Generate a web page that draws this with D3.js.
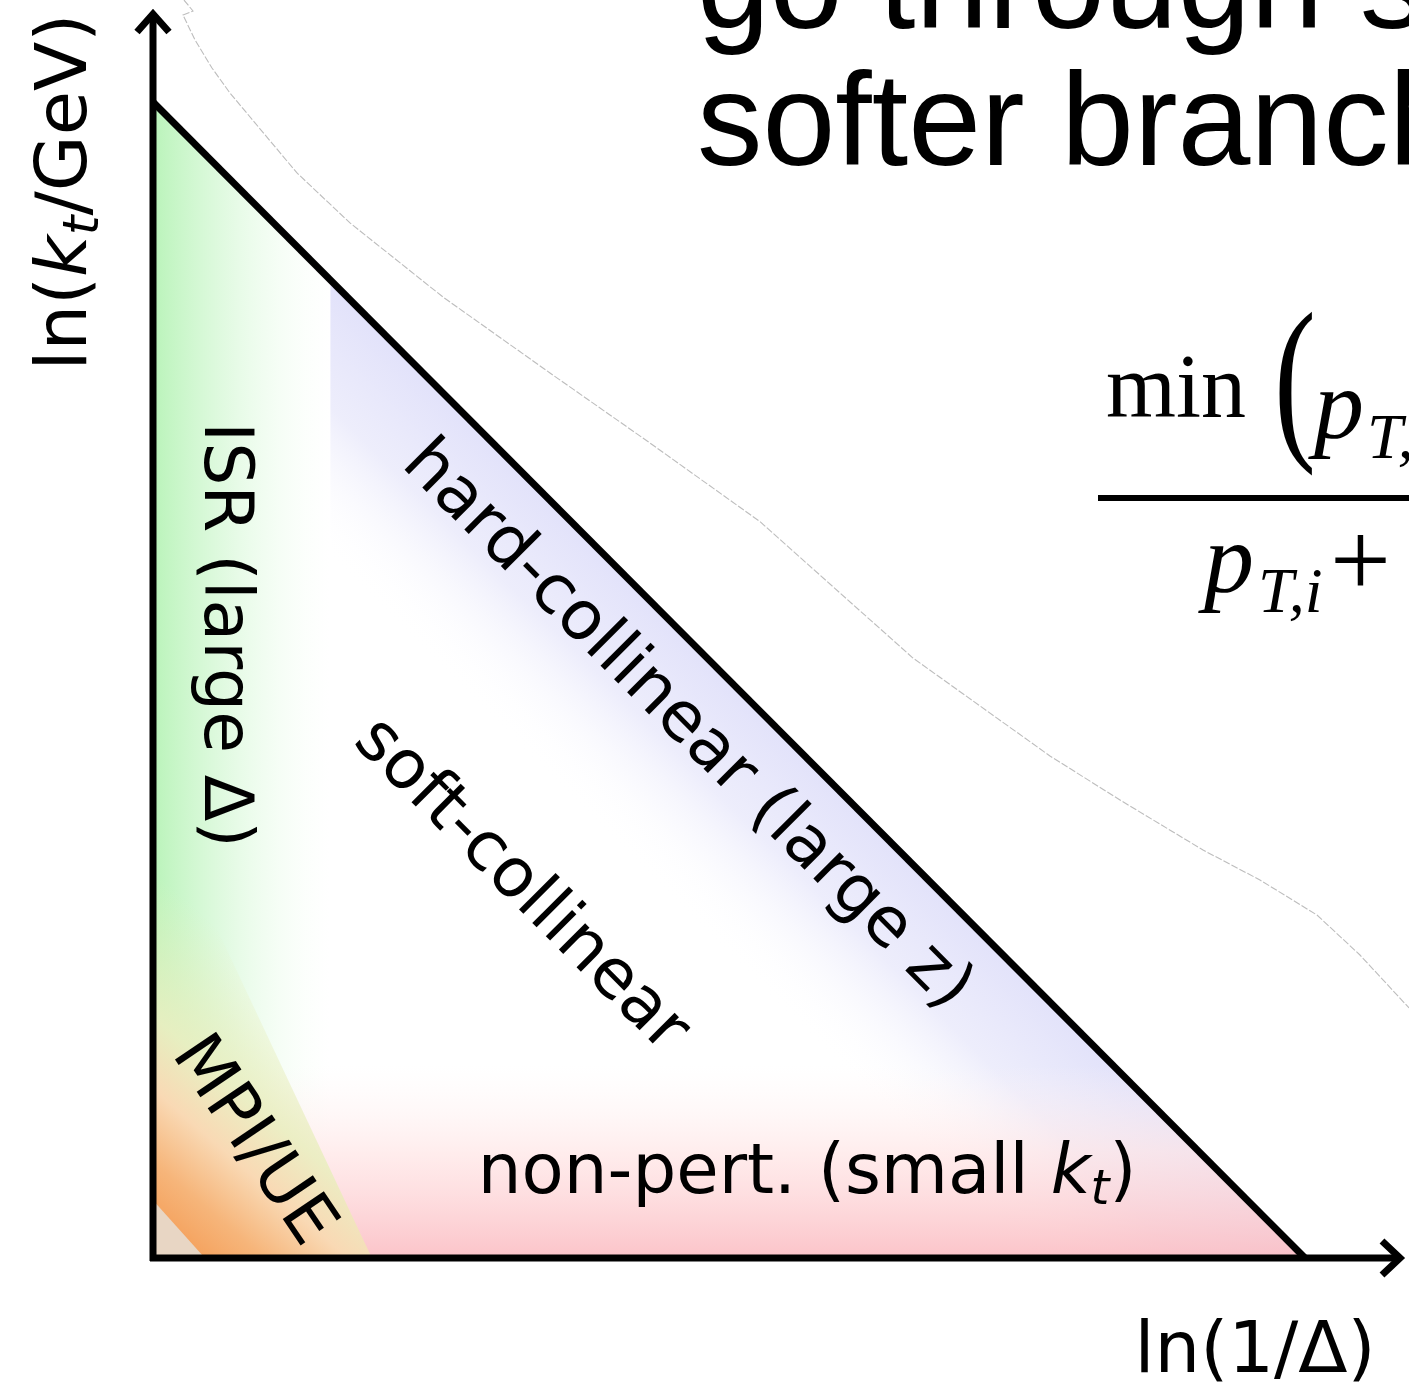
<!DOCTYPE html>
<html>
<head>
<meta charset="utf-8">
<script src="https://cdn.jsdelivr.net/npm/d3@7"></script>
<style>
    body { margin: 0; background: #fff; }
    text { font-family: "DejaVu Sans", sans-serif; fill: #000; }
    .slide { font-family: "Liberation Sans", Arial, sans-serif; }
    .math { font-family: "Liberation Serif", "Times New Roman", serif; }
</style>
</head>
<body>
<svg id="chart" width="1409" height="1384"></svg>
<script>
// Lund plane, both axes normalised to [0, 1]
const triangle = [[0, 0], [0, 1], [1, 0]];
const isrBand = [0, 0.154];          // ln(1/Δ) range of the ISR strip
const nonPertBand = [0, 0.167];      // ln(kt) range of the non-perturbative strip
const hardCollWidth = 0.24;          // depth of the hard-collinear band below the edge
const mpiBand = [[0, 0.36], [0.02, 0.36], [0.19, 0], [0, 0]];
const mpiCorner = [[0, 0.05], [0, 0], [0.045, 0]];

const regionLabels = [
    {parts: [["ISR (large Δ)"]], at: [0.045, 0.539], angle: 90, anchor: "middle", size: 68},
    {parts: [["hard-collinear (large z)"]], at: [0.452, 0.449], angle: 45, anchor: "middle", size: 68},
    {parts: [["soft-collinear"]], at: [0.308, 0.311], angle: 45, anchor: "middle", size: 68},
    {parts: [["MPI/UE"]], at: [0.073, 0.092], angle: 56, anchor: "middle", size: 68},
    {parts: [["non-pert. (small "], ["k", "i"], ["t", "sub"], [")"]], at: [0.282, 0.056], angle: 0, anchor: "start", size: 69}
];
const yLabel = [["ln("], ["k", "i"], ["t", "sub"], ["/GeV)"]];
const xLabel = [["ln(1/Δ)"]];

// faint outline left over from the slide, in the same units
const outline = [
    [0.0269, 1.0882], [0.0347, 1.0787], [0.0260, 1.0753], [0.0365, 1.0536],
    [0.0512, 1.0294], [0.0668, 1.0078], [0.1250, 0.9386], [0.1710, 0.8954],
    [0.2517, 0.8313], [0.3446, 0.7656], [0.4314, 0.7050], [0.5269, 0.6370],
    [0.6597, 0.5190], [0.7786, 0.4343], [0.8394, 0.3962], [0.9115, 0.3529],
    [0.9609, 0.3270], [1.0104, 0.2967], [1.0477, 0.2621], [1.0903, 0.2163]
];

const slideLines = ["go through s", "softer branch"];

const svg = d3.select("#chart");
const x = d3.scaleLinear().domain([0, 1]).range([153, 1305]);
const y = d3.scaleLinear().domain([0, 1]).range([1258, 102]);
const line = d3.line().x(d => x(d[0])).y(d => y(d[1]));

const defs = svg.append("defs");
defs.append("clipPath").attr("id", "tri")
    .append("path").attr("d", line(triangle) + "Z");

function gradient(id, p1, p2, stops) {
    const g = defs.append("linearGradient").attr("id", id)
        .attr("gradientUnits", "userSpaceOnUse")
        .attr("x1", p1[0]).attr("y1", p1[1])
        .attr("x2", p2[0]).attr("y2", p2[1]);
    stops.forEach(s => g.append("stop")
        .attr("offset", s[0]).attr("stop-color", s[1]).attr("stop-opacity", s[2]));
}

gradient("gIsr", [x(isrBand[0]), 0], [x(isrBand[1]), 0],
    [[0, "#b6f3b6", 0.95], [0.45, "#dcf9dc", 0.75], [1, "#f4fff4", 0]]);
gradient("gHard", [x(0.5), y(0.5)], [x((1 - hardCollWidth) / 2), y((1 - hardCollWidth) / 2)],
    [[0, "#e2e2fa", 1], [0.45, "#eaeafb", 0.85], [1, "#ffffff", 0]]);
gradient("gNp", [0, y(nonPertBand[1])], [0, y(0)],
    [[0, "#fff4f4", 0], [0.45, "#ffe4e4", 0.75], [1, "#fbbdc3", 1]]);
gradient("gMpi", [360, 1050], [180, 1258],
    [[0, "#e6f0be", 0], [0.4, "#eaeec0", 0.9], [0.6, "#f9d9b4", 1], [0.8, "#f6b57a", 1], [1, "#f49c55", 1]]);

const shade = svg.append("g").attr("clip-path", "url(#tri)");

shade.append("rect")
    .attr("x", x(isrBand[0])).attr("y", y(1))
    .attr("width", x(isrBand[1]) - x(isrBand[0])).attr("height", y(0) - y(1))
    .attr("fill", "url(#gIsr)");

shade.append("path")
    .attr("d", line([[isrBand[1], 1], [1, 0], [1 - hardCollWidth, 0], [isrBand[1], 1 - hardCollWidth - isrBand[1]]]) + "Z")
    .attr("fill", "url(#gHard)");

shade.append("rect")
    .attr("x", x(0)).attr("y", y(nonPertBand[1]))
    .attr("width", x(1) - x(0)).attr("height", y(0) - y(nonPertBand[1]))
    .attr("fill", "url(#gNp)").attr("opacity", 0.9);

shade.append("path").attr("d", line(mpiBand) + "Z").attr("fill", "url(#gMpi)");
shade.append("path").attr("d", line(mpiCorner) + "Z").attr("fill", "#e8d6c4");

// faint outline
svg.append("path")
    .attr("d", line(outline))
    .attr("fill", "none").attr("stroke", "#bdbdbd").attr("stroke-width", 1.1)
    .attr("stroke-dasharray", "7,2");

// triangle edge and axes
svg.append("path").attr("d", line([[0, 1], [1, 0]]))
    .attr("stroke", "#000").attr("stroke-width", 7).attr("fill", "none");

const axes = svg.append("g").attr("stroke", "#000").attr("stroke-width", 7)
    .attr("fill", "none").attr("stroke-linecap", "butt");
axes.append("line").attr("x1", x(0)).attr("y1", y(0) + 3).attr("x2", x(0)).attr("y2", 14);
axes.append("polyline").attr("points", [[x(0) - 16, 32], [x(0), 14], [x(0) + 16, 32]].join(" "))
    .attr("stroke-linejoin", "miter");
axes.append("line").attr("x1", x(0) - 3).attr("y1", y(0)).attr("x2", 1400).attr("y2", y(0));
axes.append("polyline").attr("points", [[1382, y(0) - 17], [1400, y(0)], [1382, y(0) + 17]].join(" "))
    .attr("stroke-linejoin", "miter");

function richText(sel, parts, size) {
    parts.forEach((p, i) => {
        const t = sel.append("tspan").text(p[0]);
        if (p[1] === "i" || p[1] === "sub") t.attr("font-style", "italic");
        if (p[1] === "sub") t.attr("font-size", size * 0.7).attr("dy", size * 0.16);
        else if (i > 0 && parts[i - 1][1] === "sub") t.attr("dy", -size * 0.16);
    });
}

regionLabels.forEach(l => {
    const t = svg.append("text")
        .attr("font-size", l.size)
        .attr("text-anchor", l.anchor)
        .attr("transform", `translate(${x(l.at[0])},${y(l.at[1])}) rotate(${l.angle})`);
    richText(t, l.parts, l.size);
});

const yl = svg.append("text").attr("font-size", 72).attr("text-anchor", "middle")
    .attr("transform", `translate(${x(0) - 67},${y(0.922)}) rotate(-90)`);
richText(yl, yLabel, 72);

const xl = svg.append("text").attr("font-size", 72)
    .attr("x", x(0.852)).attr("y", y(0) + 114);
richText(xl, xLabel, 72);

// slide text around the figure
svg.selectAll("text.slide").data(slideLines).join("text")
    .attr("class", "slide")
    .attr("x", 697).attr("y", (d, i) => 28 + i * 137)
    .attr("font-size", 131)
    .text(d => d);

const m = svg.append("g").attr("class", "formula");
m.append("text").attr("class", "math").attr("x", 1106).attr("y", 417).attr("font-size", 90).text("min");
m.append("text").attr("class", "math").attr("font-size", 180)
    .attr("transform", "translate(1274,437) scale(0.7,1)").text("(");
m.append("text").attr("class", "math").attr("x", 1314).attr("y", 438).attr("font-size", 100)
    .attr("font-style", "italic").text("p");
m.append("text").attr("class", "math").attr("x", 1367).attr("y", 458).attr("font-size", 64)
    .attr("font-style", "italic").text("T,");
m.append("rect").attr("x", 1098).attr("y", 495).attr("width", 311).attr("height", 6).attr("fill", "#000");
m.append("text").attr("class", "math").attr("x", 1204).attr("y", 592).attr("font-size", 100)
    .attr("font-style", "italic").text("p");
m.append("text").attr("class", "math").attr("x", 1258).attr("y", 612).attr("font-size", 64)
    .attr("font-style", "italic").text("T,i");
m.append("text").attr("class", "math").attr("x", 1330).attr("y", 596).attr("font-size", 108).text("+");
</script>
</body>
</html>
